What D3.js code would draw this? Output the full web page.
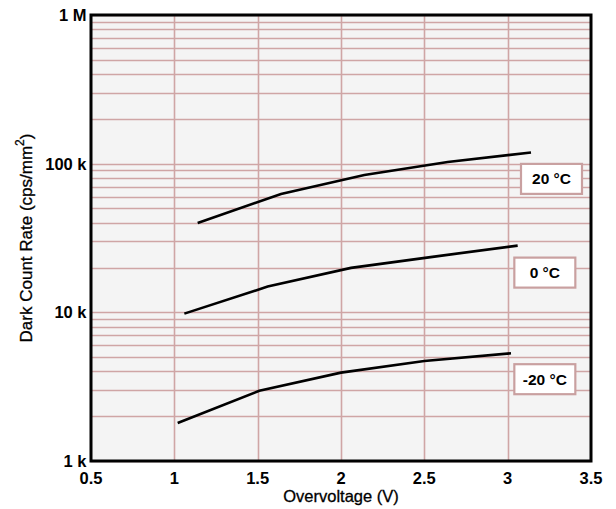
<!DOCTYPE html>
<html>
<head>
<meta charset="utf-8">
<script src="https://cdn.jsdelivr.net/npm/d3@7"></script>
<style>
  body { margin: 0; background: #fff; }
  svg { display: block; font-family: "Liberation Sans", Arial, sans-serif; }
</style>
</head>
<body>
<div id="chart"></div>
<script>
// values
var xTicks = [0.5, 1, 1.5, 2, 2.5, 3, 3.5];
var yTicks = [1e3, 1e4, 1e5, 1e6];
var yTickLabels = ["1 k", "10 k", "100 k", "1 M"];

var series = ["20 °C", "0 °C", "-20 °C"];
var volts20 = [1.14, 1.64, 2.14, 2.64, 3.14];
var rate20 = [39900, 62500, 83900, 102600, 119000];
var volts0 = [1.06, 1.56, 2.06, 2.56, 3.06];
var rate0 = [9800, 14900, 19900, 23700, 28100];
var voltsM20 = [1.02, 1.51, 2.0, 2.5, 3.02];
var rateM20 = [1800, 2970, 3930, 4710, 5300];
// where the label boxes sit (voltage of left edge, rate at box centre)
var labelAt = [[3.08, 79000], [3.04, 18500], [3.04, 3550]];

var width = 616, height = 509;
var plotL = 91, plotR = 591, plotT = 15, plotB = 461;
var gridCol = "#cfa5a5";

var x = d3.scaleLinear().domain([0.5, 3.5]).range([plotL, plotR]);
var y = d3.scaleLog().domain([1e3, 1e6]).range([plotB, plotT]);

var svg = d3.select("#chart").append("svg")
    .attr("width", width)
    .attr("height", height);

svg.append("rect")
    .attr("x", plotL).attr("y", plotT)
    .attr("width", plotR - plotL).attr("height", plotB - plotT)
    .attr("fill", "#f4f4f4");

// horizontal grid: all log minor ticks
svg.append("g").selectAll("line")
    .data(y.ticks())
  .enter().append("line")
    .attr("x1", plotL).attr("x2", plotR)
    .attr("y1", function(d) { return Math.round(y(d)) + 0.5; })
    .attr("y2", function(d) { return Math.round(y(d)) + 0.5; })
    .attr("stroke", gridCol)
    .attr("stroke-width", 1.6);

// vertical grid
svg.append("g").selectAll("line")
    .data(xTicks.slice(1, -1))
  .enter().append("line")
    .attr("x1", function(d) { return Math.round(x(d)) + 0.5; })
    .attr("x2", function(d) { return Math.round(x(d)) + 0.5; })
    .attr("y1", plotT).attr("y2", plotB)
    .attr("stroke", gridCol)
    .attr("stroke-width", 1.6);

// curves
var data = [
  d3.zip(volts20, rate20),
  d3.zip(volts0, rate0),
  d3.zip(voltsM20, rateM20)
];
var line = d3.line()
    .x(function(d) { return x(d[0]); })
    .y(function(d) { return y(d[1]); });

svg.append("g").selectAll("path")
    .data(data)
  .enter().append("path")
    .attr("d", line)
    .attr("fill", "none")
    .attr("stroke", "#000")
    .attr("stroke-width", 2.6);

// label boxes
var labels = svg.append("g").selectAll("g")
    .data(series)
  .enter().append("g")
    .attr("transform", function(d, i) {
      return "translate(" + x(labelAt[i][0]) + "," + y(labelAt[i][1]) + ")";
    });

labels.append("rect")
    .attr("x", 0).attr("y", -15)
    .attr("width", 61).attr("height", 30)
    .attr("fill", "#fff")
    .attr("stroke", "#c9a0a0")
    .attr("stroke-width", 2.2);

labels.append("text")
    .attr("x", 30.5).attr("y", 5.5)
    .attr("text-anchor", "middle")
    .attr("font-size", 15.5)
    .attr("font-weight", "bold")
    .text(function(d) { return d; });

// frame
svg.append("rect")
    .attr("x", plotL).attr("y", plotT)
    .attr("width", plotR - plotL).attr("height", plotB - plotT)
    .attr("fill", "none")
    .attr("stroke", "#000")
    .attr("stroke-width", 3);

// tick labels
svg.append("g").selectAll("text")
    .data(xTicks)
  .enter().append("text")
    .attr("x", function(d) { return x(d); })
    .attr("y", 483.5)
    .attr("text-anchor", "middle")
    .attr("font-size", 16.5)
    .attr("font-weight", "bold")
    .text(function(d) { return d; });

svg.append("g").selectAll("text")
    .data(yTicks)
  .enter().append("text")
    .attr("x", 86.5)
    .attr("y", function(d) { return y(d) + 6; })
    .attr("text-anchor", "end")
    .attr("font-size", 16.5)
    .attr("font-weight", "bold")
    .text(function(d, i) { return yTickLabels[i]; });

// axis titles
svg.append("text")
    .attr("x", (plotL + plotR) / 2)
    .attr("y", 501.5)
    .attr("text-anchor", "middle")
    .attr("font-size", 16.5)
    .attr("stroke", "#000")
    .attr("stroke-width", 0.3)
    .text("Overvoltage (V)");

var yt = svg.append("text")
    .attr("transform", "translate(32," + ((plotT + plotB) / 2) + ") rotate(-90)")
    .attr("text-anchor", "middle")
    .attr("font-size", 17)
    .attr("stroke", "#000")
    .attr("stroke-width", 0.3);
yt.append("tspan").text("Dark Count Rate (cps/mm");
yt.append("tspan").attr("font-size", 12).attr("dy", -8).text("2");
yt.append("tspan").attr("dy", 8).text(")");
</script>
</body>
</html>
